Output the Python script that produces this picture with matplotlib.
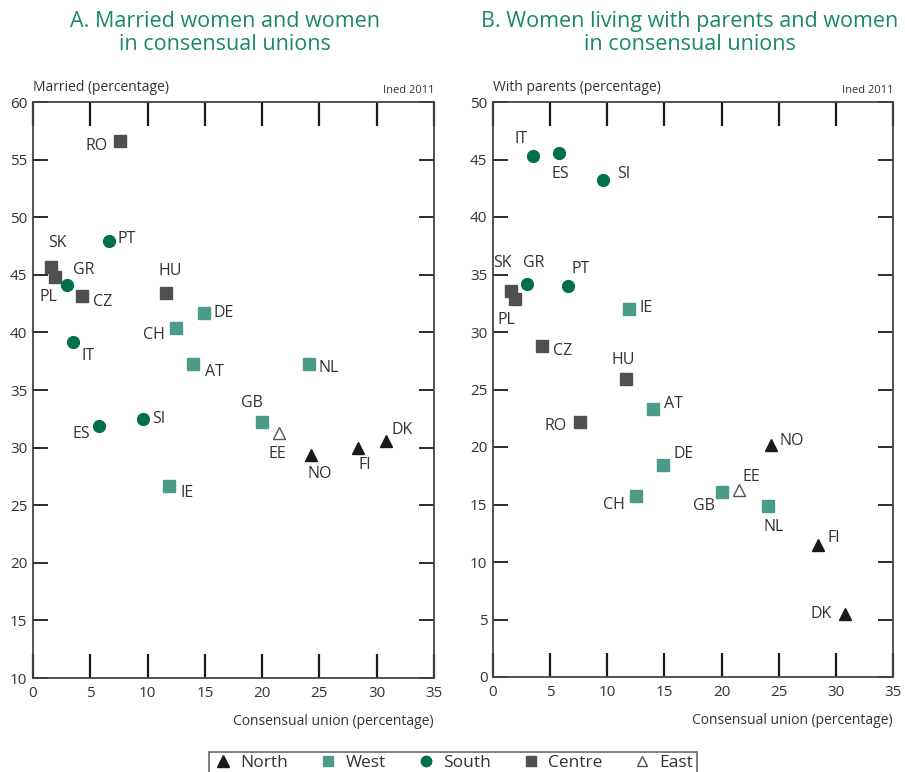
import matplotlib.pyplot as plt
from matplotlib.lines import Line2D

plt.rcParams['font.family'] = ['Open Sans', 'DejaVu Sans']

# ---- data ----
countries = ["RO", "SK", "PL", "GR", "CZ", "PT", "HU", "DE", "CH", "IT", "AT", "NL",
             "ES", "SI", "GB", "EE", "NO", "FI", "DK", "IE"]
region = ["Centre", "Centre", "Centre", "South", "Centre", "South", "Centre", "West",
          "West", "South", "West", "West", "South", "South", "West", "East", "North",
          "North", "North", "West"]
union_pct = [7.6, 1.6, 1.9, 3.0, 4.3, 6.6, 11.6, 14.9, 12.5, 3.5, 14.0, 24.1,
             5.8, 9.6, 20.0, 21.5, 24.3, 28.4, 30.8, 11.9]
married_pct = [56.6, 45.7, 44.8, 44.1, 43.2, 47.9, 43.4, 41.7, 40.4, 39.2, 37.3, 37.3,
               31.9, 32.45, 32.2, 31.3, 29.4, 30.0, 30.6, 26.7]
parents_pct = [22.2, 33.6, 32.9, 34.2, 28.8, 34.0, 25.9, 18.4, 15.7, 45.3, 23.3, 14.9,
               45.6, 43.2, 16.1, 16.3, 20.2, 11.5, 5.5, 32.0]

regions = ["North", "West", "South", "Centre", "East"]

# marker style per region
style = {
    "North": dict(marker="^", color="#1a1a1a", mfc="#1a1a1a", ms=9),
    "West": dict(marker="s", color="#4a9b87", mfc="#4a9b87", ms=8.5),
    "South": dict(marker="o", color="#006f4e", mfc="#006f4e", ms=8.5),
    "Centre": dict(marker="s", color="#505050", mfc="#505050", ms=8.5),
    "East": dict(marker="^", color="#555555", mfc="white", ms=8),
}

# label offsets (pixels, relative to marker) for each panel
off_a = {"RO": (-23, -5), "SK": (6, 24), "PL": (-6, -20), "GR": (16, 15), "CZ": (20, -6),
         "PT": (18, 2), "HU": (4, 22), "DE": (20, 0), "CH": (-22, -7), "IT": (15, -14),
         "AT": (21, -8), "NL": (20, -4), "ES": (-18, -8), "SI": (16, 0), "GB": (-10, 19),
         "EE": (-2, -21), "NO": (8, -19), "FI": (6, -17), "DK": (16, 11), "IE": (18, -7)}
off_b = {"RO": (-24, -4), "SK": (-9, 28), "PL": (-8, -21), "GR": (6, 21), "CZ": (20, -5),
         "PT": (12, 17), "HU": (-2, 19), "DE": (20, 11), "CH": (-22, -9), "IT": (-12, 17),
         "AT": (20, 5), "NL": (5, -21), "ES": (1, -21), "SI": (21, 6), "GB": (-18, -14),
         "EE": (13, 13), "NO": (21, 4), "FI": (16, 7), "DK": (-24, 0), "IE": (17, 1)}

TXT = "#333333"
GREEN = "#1a8a5c"

fig = plt.figure(figsize=(9.05, 7.72), dpi=100)
ax_a = fig.add_axes([33 / 905, 94 / 772, 401 / 905, 576 / 772])
ax_b = fig.add_axes([493 / 905, 95 / 772, 400 / 905, 575 / 772])


def draw_panel(ax, yvals, offsets, ylim, yticks, ylabel, title, title_x):
    for i, c in enumerate(countries):
        st = style[region[i]]
        ax.plot(union_pct[i], yvals[i], linestyle="none", marker=st["marker"],
                color=st["color"], mfc=st["mfc"], mec=st["color"], ms=st["ms"],
                mew=1.0, zorder=3)
        dx, dy = offsets[c]
        ax.annotate(c, (union_pct[i], yvals[i]), xytext=(dx, dy),
                    textcoords="offset pixels", ha="center", va="center",
                    fontsize=11.5, color=TXT)
    ax.set_xlim(0, 35)
    ax.set_ylim(*ylim)
    ax.set_xticks(range(0, 40, 5))
    ax.set_yticks(yticks)
    ax.tick_params(axis="both", labelsize=11, labelcolor=TXT, color="#1a1a1a")
    ax.tick_params(axis="x", direction="in", length=17, width=1.6, top=True, pad=6)
    ax.tick_params(axis="y", direction="in", length=11, width=1.3, right=True, pad=4)
    for s in ax.spines.values():
        s.set_color("#444444")
        s.set_linewidth(1.3)
    ax.text(0, 1.012, ylabel, transform=ax.transAxes, ha="left", va="bottom",
            fontsize=10, color=TXT)
    ax.text(1, 1.01, "Ined 2011", transform=ax.transAxes, ha="right", va="bottom",
            fontsize=8, color=TXT)
    ax.text(1, -0.063, "Consensual union (percentage)", transform=ax.transAxes,
            ha="right", va="top", fontsize=10, color=TXT)
    fig.text(title_x / 905, 1 - 33 / 772, title, ha="center", va="center",
             fontsize=15.5, color=GREEN, linespacing=1.1)


draw_panel(ax_a, married_pct, off_a, (10, 60), range(10, 65, 5),
           "Married (percentage)", "A. Married women and women\nin consensual unions", 225)
draw_panel(ax_b, parents_pct, off_b, (0, 50), range(0, 55, 5),
           "With parents (percentage)",
           "B. Women living with parents and women\nin consensual unions", 690)

handles = []
for r in regions:
    st = style[r]
    handles.append(Line2D([], [], linestyle="none", marker=st["marker"], color=st["color"],
                          mfc=st["mfc"], mec=st["color"], ms=st["ms"] - 1, label=r))
leg = fig.legend(handles=handles, loc="upper center", bbox_to_anchor=(453 / 905, 1 - 743 / 772),
                 ncol=5, frameon=True, fancybox=False, fontsize=12.5, handletextpad=0.4,
                 columnspacing=1.7, borderpad=0.2, handlelength=1.2)
leg.get_frame().set_edgecolor("#444444")
leg.get_frame().set_linewidth(1.2)
for t in leg.get_texts():
    t.set_color(TXT)

fig.savefig("out.png", dpi=100)
